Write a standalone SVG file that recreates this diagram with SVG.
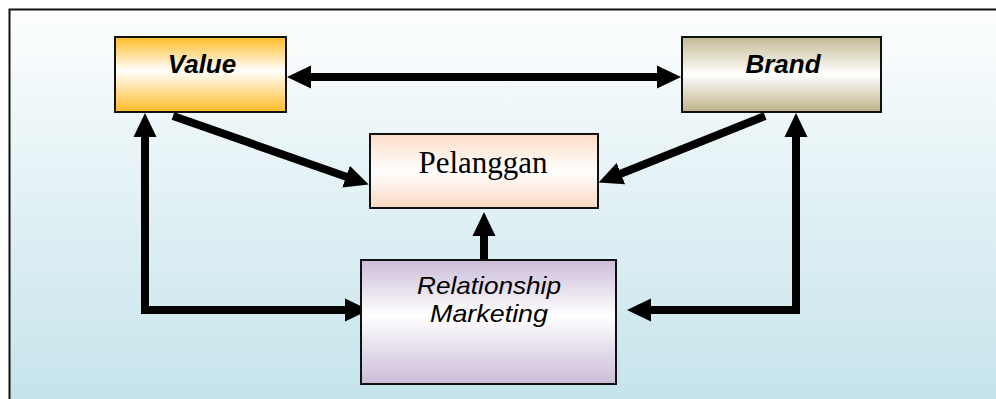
<svg xmlns="http://www.w3.org/2000/svg" width="996" height="399" viewBox="0 0 996 399">
  <defs>
    <linearGradient id="bg" x1="0" y1="0" x2="0" y2="1">
      <stop offset="0" stop-color="#fdfefe"/>
      <stop offset="1" stop-color="#b6dce6"/>
    </linearGradient>
    <linearGradient id="gValue" x1="0" y1="0" x2="0" y2="1">
      <stop offset="0" stop-color="#ffbc25"/>
      <stop offset="0.45" stop-color="#ffffff"/>
      <stop offset="1" stop-color="#ffbc25"/>
    </linearGradient>
    <linearGradient id="gBrand" x1="0" y1="0" x2="0" y2="1">
      <stop offset="0" stop-color="#c4ba94"/>
      <stop offset="0.5" stop-color="#ffffff"/>
      <stop offset="1" stop-color="#bdb28a"/>
    </linearGradient>
    <linearGradient id="gPel" x1="0" y1="0" x2="0" y2="1">
      <stop offset="0" stop-color="#fcdcc6"/>
      <stop offset="0.5" stop-color="#ffffff"/>
      <stop offset="1" stop-color="#fad8c2"/>
    </linearGradient>
    <linearGradient id="gRM" x1="0" y1="0" x2="0" y2="1">
      <stop offset="0" stop-color="#cbbcd8"/>
      <stop offset="0.45" stop-color="#ffffff"/>
      <stop offset="1" stop-color="#cbbcd8"/>
    </linearGradient>
    <marker id="ah" viewBox="0 -12 24 24" markerWidth="24" markerHeight="24" refX="1" refY="0" markerUnits="userSpaceOnUse" orient="auto-start-reverse">
      <path d="M0,-11.5 L24,0 L0,11.5 Z" fill="#000"/>
    </marker>
    <style>
      .box { stroke: #111; stroke-width: 2; }
      .conn { fill: none; stroke: #000; stroke-width: 8; stroke-linejoin: miter; }
      .sansbi { font-family: "Liberation Sans", Arial, sans-serif; font-weight: bold; font-style: italic; font-size: 26px; fill: #000; text-anchor: middle; }
      .sansi { font-family: "Liberation Sans", Arial, sans-serif; font-style: italic; font-size: 24px; fill: #000; text-anchor: middle; }
      .serif { font-family: "Liberation Serif", "Times New Roman", serif; font-size: 31px; fill: #000; text-anchor: middle; }
    </style>
  </defs>

  <rect x="0" y="0" width="996" height="399" fill="#ffffff"/>
  <rect x="9.5" y="9.5" width="1100" height="500" fill="url(#bg)" stroke="#111" stroke-width="2"/>

  <g id="connectors">
    <path class="conn" d="M310,77 L658,77" marker-start="url(#ah)" marker-end="url(#ah)"/>
    <path class="conn" d="M173,116 L347,177" marker-end="url(#ah)"/>
    <path class="conn" d="M765,116 L620,174" marker-end="url(#ah)"/>
    <path class="conn" d="M145,136 L145,310 L346,310" marker-start="url(#ah)" marker-end="url(#ah)"/>
    <path class="conn" d="M796,136 L796,310 L650,310" marker-start="url(#ah)" marker-end="url(#ah)"/>
    <path class="conn" d="M484,260 L484,235" marker-end="url(#ah)"/>
  </g>

  <g id="value">
    <rect class="box" x="115" y="37" width="171" height="75" fill="url(#gValue)"/>
    <text class="sansbi" x="202" y="73">Value</text>
  </g>
  <g id="brand">
    <rect class="box" x="682" y="37" width="199" height="75" fill="url(#gBrand)"/>
    <text class="sansbi" x="783" y="73">Brand</text>
  </g>
  <g id="pelanggan">
    <rect class="box" x="370" y="134" width="228" height="74" fill="url(#gPel)"/>
    <text class="serif" x="483" y="173">Pelanggan</text>
  </g>
  <g id="relationship-marketing">
    <rect class="box" x="361" y="260" width="255" height="124" fill="url(#gRM)" stroke="#333"/>
    <text class="sansi" x="489" y="294" textLength="144" lengthAdjust="spacingAndGlyphs">Relationship</text>
    <text class="sansi" x="489" y="322" textLength="118" lengthAdjust="spacingAndGlyphs">Marketing</text>
  </g>
</svg>
